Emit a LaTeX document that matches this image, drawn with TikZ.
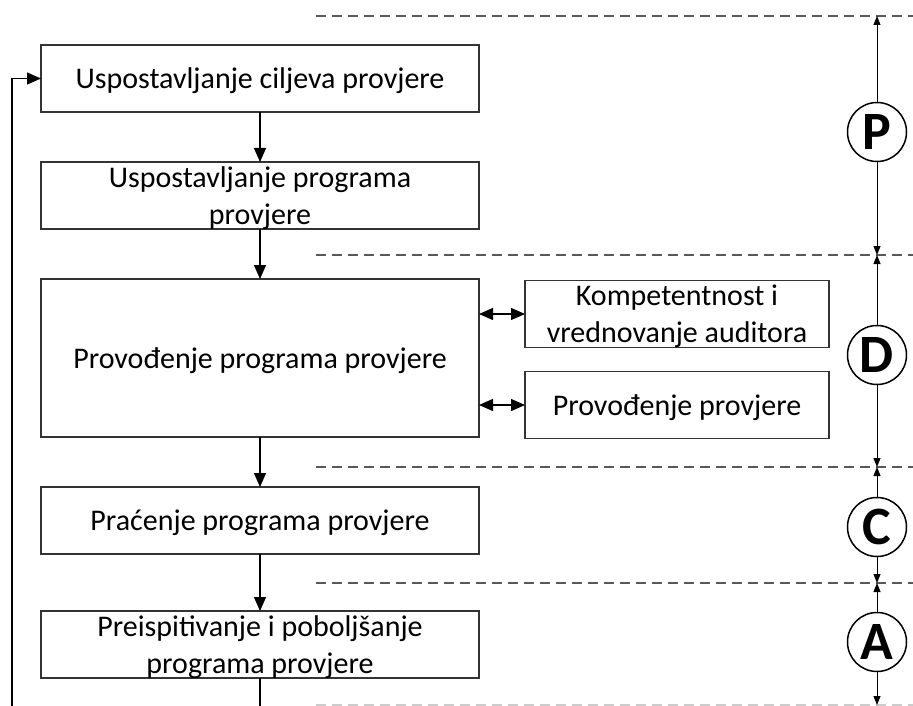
\documentclass[tikz,border=0pt]{standalone}
\usepackage{fontspec}
\setmainfont{Carlito}
\usetikzlibrary{positioning,arrows.meta}

\begin{document}
\begin{tikzpicture}[x=1pt,y=-1pt,
    box/.style={draw=black!80,line width=1.3pt,rectangle,minimum width=438pt,minimum height=67pt,
        align=center,inner sep=0pt,outer sep=0pt,text depth=0pt,font=\fontsize{30}{37}\selectfont},
    sidebox/.style={box,minimum width=304pt},
    phase/.style={draw,circle,line width=1.5pt,minimum size=59pt,inner sep=0pt,
        font=\fontsize{54}{54}\selectfont\bfseries},
    flow/.style={line width=1.3pt,-{Triangle[length=14pt,width=12pt]}},
    both/.style={line width=1.3pt,{Triangle[length=14pt,width=12pt]}-{Triangle[length=14pt,width=12pt]}},
    span/.style={line width=1pt,-{Triangle[length=9pt,width=7pt]}},
    divider/.style={draw=black!65,line width=1.4pt,dash pattern=on 10pt off 6pt},
    node distance=50pt]
    \useasboundingbox (0,0) rectangle (913,706);

    \node[box] (ciljevi) at (260,78.5) {Uspostavljanje ciljeva provjere};
    \node[box,below=of ciljevi] (program) {Uspostavljanje programa\\provjere};
    \node[box,below=of program,minimum height=158pt] (provodjenje) {Provođenje programa provjere};
    \node[box,below=of provodjenje] (pracenje) {Praćenje programa provjere};
    \node[box,below=57pt of pracenje] (preispitivanje) {Preispitivanje i poboljšanje\\programa provjere};

    \node[sidebox] (kompetentnost) at (677,314) {Kompetentnost i\\vrednovanje auditora};
    \node[sidebox] (provjera) at (677,405) {Provođenje provjere};

    \draw[flow] (ciljevi) -- (program);
    \draw[flow] (program) -- (provodjenje);
    \draw[flow] (provodjenje) -- (pracenje);
    \draw[flow] (pracenje) -- (preispitivanje);
    \draw[both] (provodjenje.east |- kompetentnost) -- (kompetentnost.west);
    \draw[both] (provodjenje.east |- provjera) -- (provjera.west);

    % povratna veza
    \coordinate (kraj) at (260,706);
    \coordinate (povratak) at (12,706);
    \draw[line width=1.3pt] (preispitivanje) -- (kraj);
    \draw[flow] (povratak) |- (ciljevi.west);

    % faze PDCA
    \foreach \y/\name in {16/d0,255/d1,467/d2,583/d3} {
        \draw[divider] (316,\y) -- (913,\y);
        \coordinate (\name) at (877,\y);
    }
    \draw[divider,draw=black!20] (316,705) -- (913,705);
    \coordinate (d4) at (877,705);

    \node[phase] (P) at (877,132) {P};
    \node[phase] (D) at (877,355) {D};
    \node[phase] (C) at (877,527) {C};
    \node[phase] (A) at (877,642) {A};

    \draw[span] (P) -- (d0);
    \draw[span] (P) -- (d1);
    \draw[span] (D) -- (d1);
    \draw[span] (D) -- (d2);
    \draw[span] (C) -- (d2);
    \draw[span] (C) -- (d3);
    \draw[span] (A) -- (d3);
    \draw[span] (A) -- (d4);
\end{tikzpicture}
\end{document}
